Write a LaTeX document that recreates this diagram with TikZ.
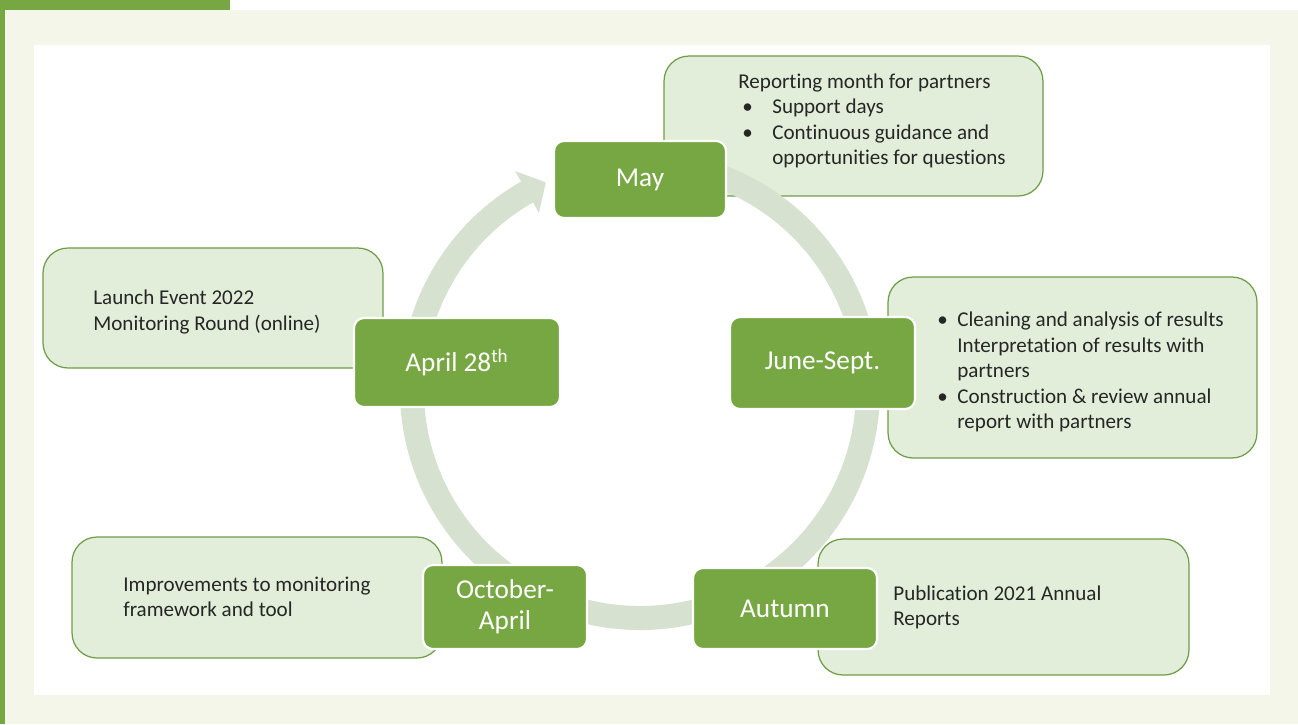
\documentclass[tikz,border=0pt]{standalone}
\usepackage{fontspec}
\setmainfont{Carlito}[Ligatures=NoCommon]
\usetikzlibrary{calc}

\definecolor{leafgreen}{HTML}{77A743}
\definecolor{palegreen}{HTML}{E2EEDA}
\definecolor{edgegreen}{HTML}{6F9C48}
\definecolor{ringgray}{HTML}{D6E1D0}
\definecolor{pagetint}{HTML}{F4F6EA}
\definecolor{inktext}{HTML}{262626}

\begin{document}
\begin{tikzpicture}[x=0.02cm,y=-0.02cm,
    phase/.style={draw=white, line width=1.2pt, fill=leafgreen, rounded corners=0.2cm,
      text=white, align=center, inner sep=0pt, font=\fontsize{15.5}{17.6}\selectfont},
    infobox/.style={draw=edgegreen, line width=0.7pt, fill=palegreen, rounded corners=0.5cm,
      inner sep=0pt},
    infotext/.style={anchor=west, align=left, inner sep=0pt, text=inktext,
      font=\fontsize{12}{14.5}\selectfont}]
	% Bakgrunn og ramme
	\fill[white] (0,0) rectangle (1298,724);
	\fill[pagetint] (5,10) rectangle (1298,724);
	\fill[leafgreen] (0,0) rectangle (230,10);
	\fill[leafgreen] (0,0) rectangle (5,724);
	\fill[white] (34,45) rectangle (1270,695);
	\useasboundingbox (0,0) rectangle (1298,724);

	% Tekstbokser
	\node[infobox, minimum width=7.58cm, minimum height=2.80cm] (maybox) at (853.5,126) {};
	\node[infobox, minimum width=6.80cm, minimum height=2.40cm] (aprilbox) at (213,308) {};
	\node[infobox, minimum width=7.38cm, minimum height=3.62cm] (junebox) at (1072.5,367.5) {};
	\node[infobox, minimum width=7.42cm, minimum height=2.72cm] (autumnbox) at (1003.5,607) {};
	\node[infobox, minimum width=7.40cm, minimum height=2.42cm] (octbox) at (257,597.5) {};

	% Syklus-pil
	\coordinate (c) at (640,390);
	\fill[ringgray] ($(c)+(280:240)$) arc[start angle=280, end angle=600.3, radius=240]
		-- ($(c)+(600.3:252)$) -- ($(c)+(605.6:228)$) -- ($(c)+(600.3:204)$)
		-- ($(c)+(600.3:216)$) arc[start angle=600.3, end angle=280, radius=216] -- cycle;

	% Faser
	\node[phase, minimum width=3.44cm, minimum height=1.54cm] (may) at (640,179.5) {May};
	\node[phase, minimum width=4.12cm, minimum height=1.78cm] (april) at (457,362.5) {April 28\textsuperscript{th}};
	\node[phase, minimum width=3.70cm, minimum height=1.84cm] (june) at (822.5,363) {June-Sept.};
	\node[phase, minimum width=3.28cm, minimum height=1.68cm] (oct) at (505,607) {October-\\April};
	\node[phase, minimum width=3.68cm, minimum height=1.62cm] (autumn) at (785,608.5) {Autumn};

	% Tekst i boksene
	\node[infotext] (maytext) at (738,121) {Reporting month for partners\\
		\hspace*{0.08cm}\makebox[0.6cm][l]{\textbullet}Support days\\
		\hspace*{0.08cm}\makebox[0.6cm][l]{\textbullet}Continuous guidance and\\
		\hspace*{0.68cm}opportunities for questions};
	\node[infotext] (apriltext) at (93,312) {Launch Event 2022\\Monitoring Round (online)};
	\node[infotext] (junetext) at (937,372) {\makebox[0.4cm][l]{\textbullet}Cleaning and analysis of results\\
		\hspace*{0.4cm}Interpretation of results with\\
		\hspace*{0.4cm}partners\\
		\makebox[0.4cm][l]{\textbullet}Construction \& review annual\\
		\hspace*{0.4cm}report with partners};
	\node[infotext] (octtext) at (123,597) {Improvements to monitoring\\framework and tool};
	\node[infotext] (autumntext) at (893,607.5) {Publication 2021 Annual\\Reports};
\end{tikzpicture}
\end{document}
